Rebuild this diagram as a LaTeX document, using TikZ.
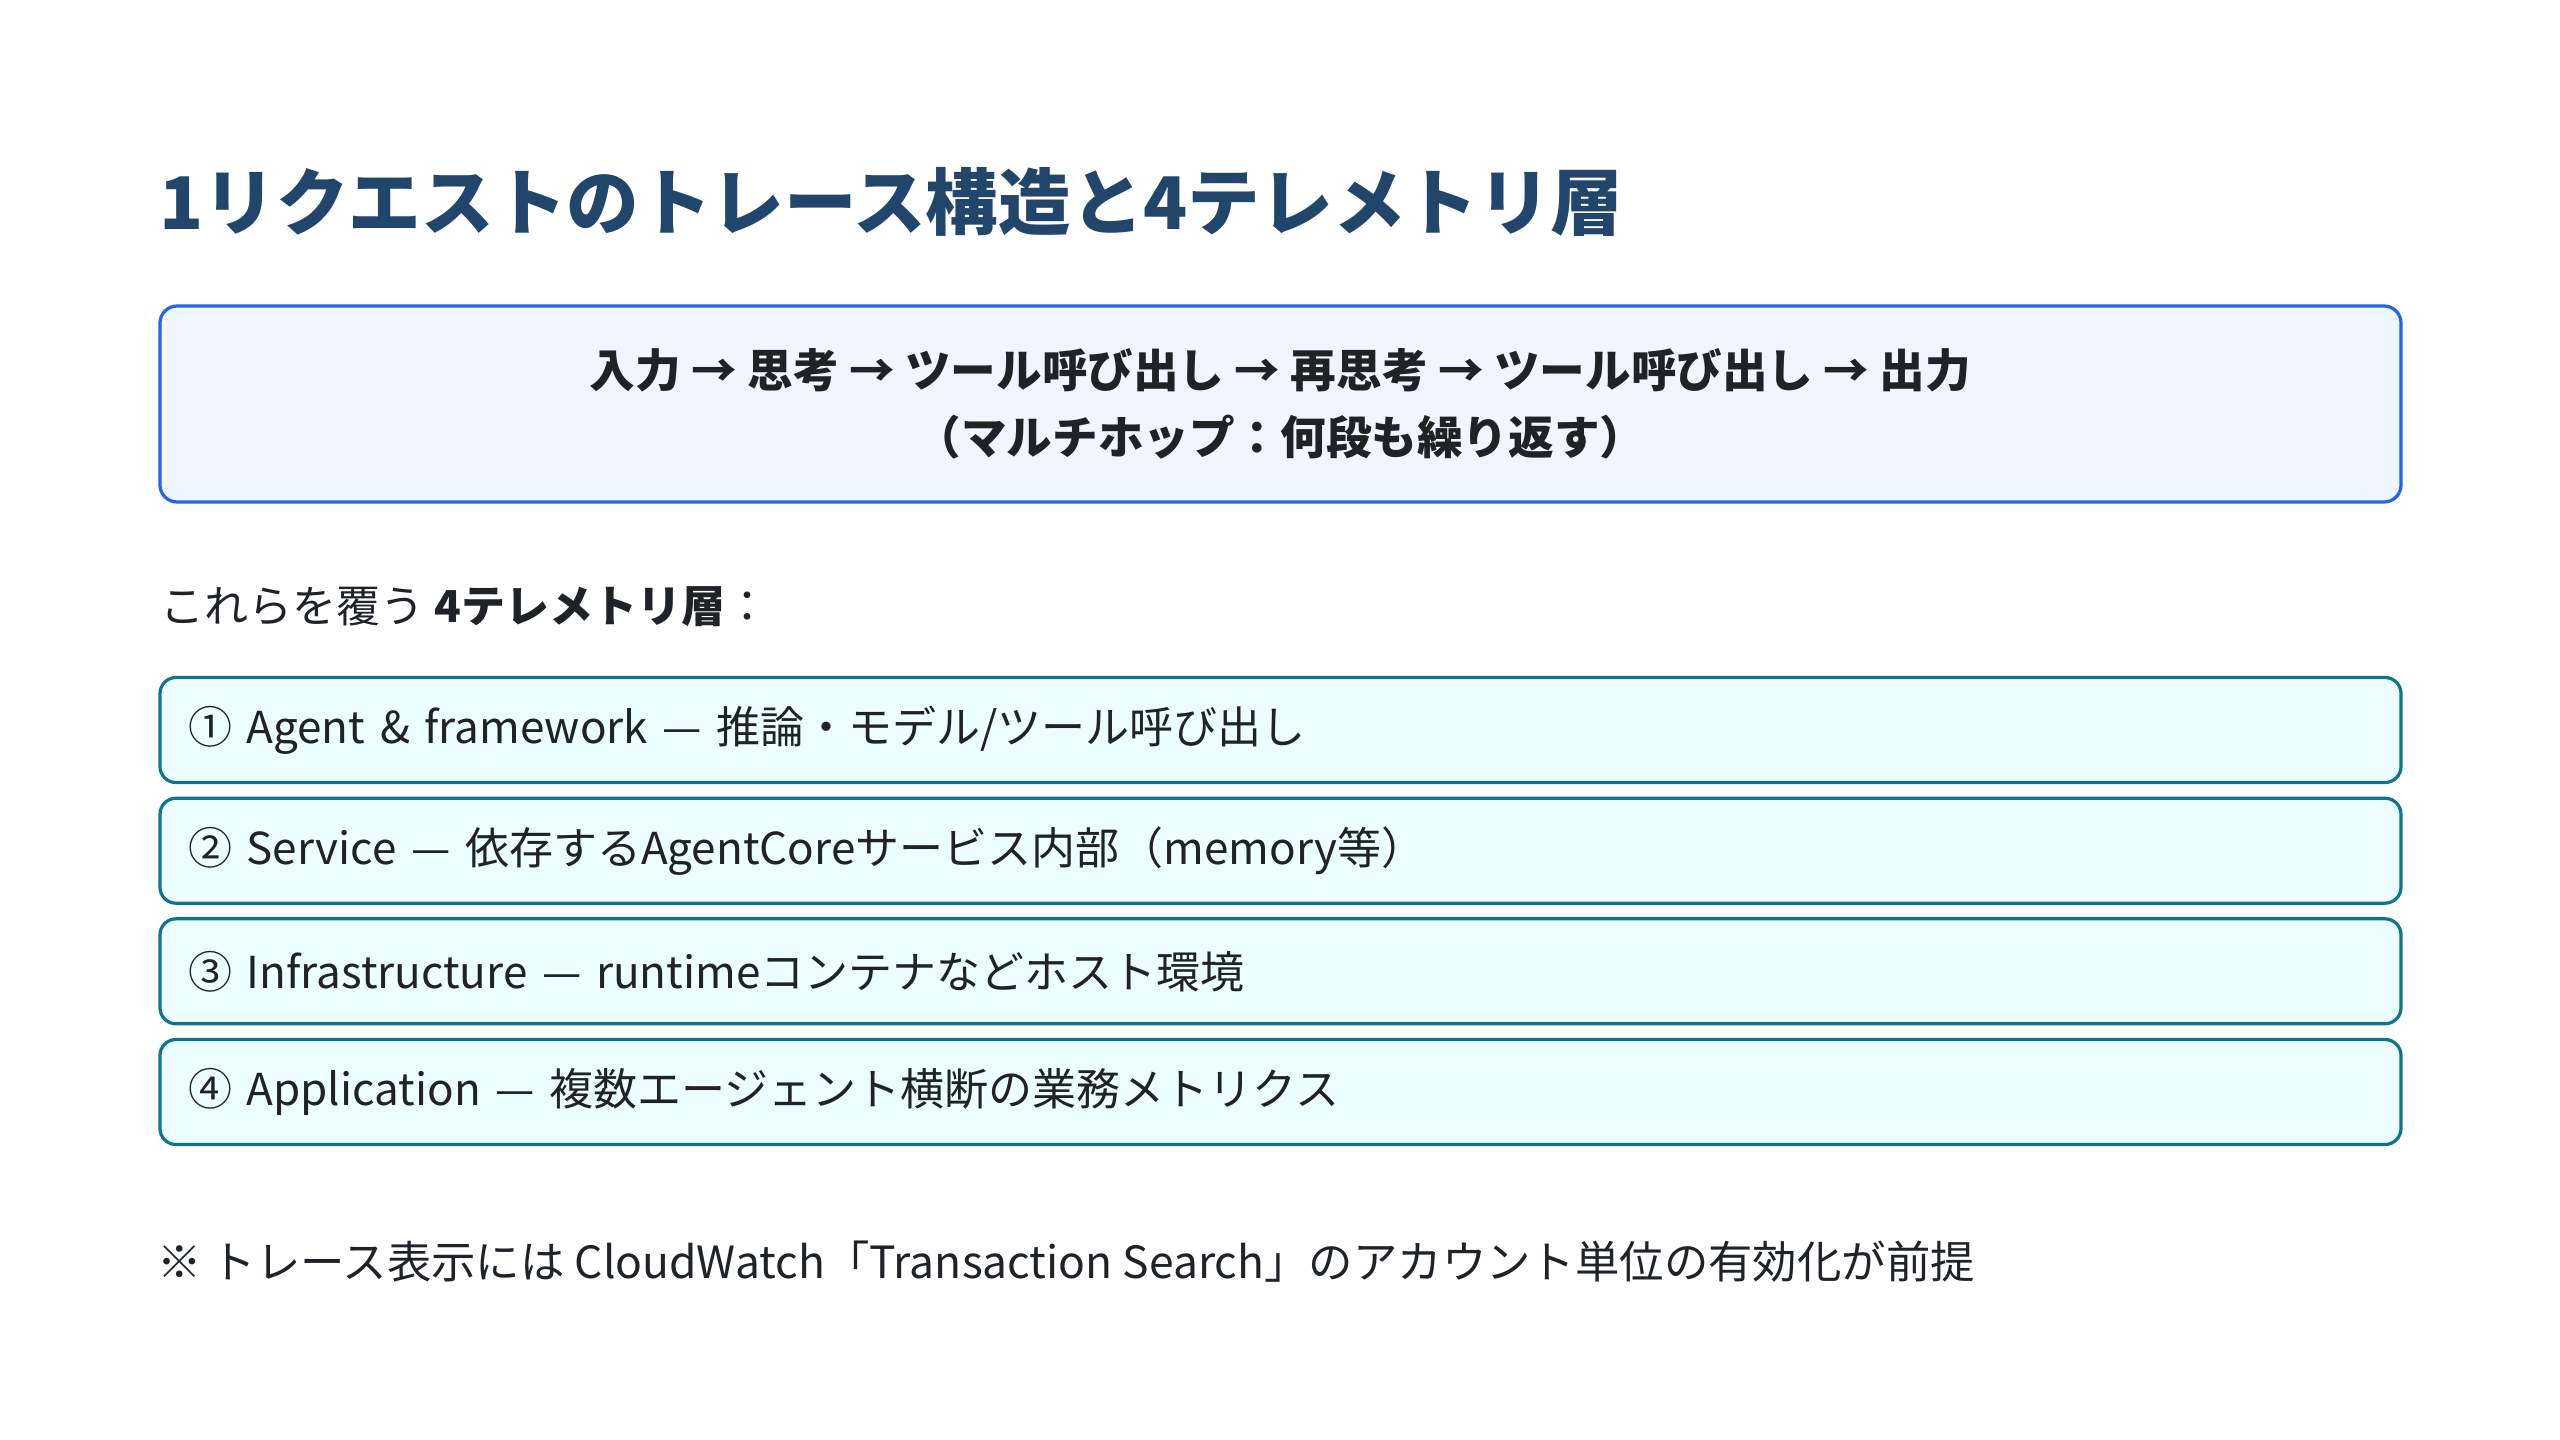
\documentclass[tikz,border=0pt]{standalone}
\usepackage{fontspec}
\setmainfont{Noto Sans CJK JP}
\usepackage{tikz}
\definecolor{titleblue}{RGB}{34, 70, 107}
\definecolor{inkgray}{RGB}{31, 35, 40}
\definecolor{flowfill}{RGB}{239, 246, 255}
\definecolor{flowline}{RGB}{37, 99, 235}
\definecolor{layerfill}{RGB}{236, 254, 255}
\definecolor{layerline}{RGB}{14, 116, 144}
\tikzset{flowbox/.style={draw=flowline, fill=flowfill, line width=1.6pt, rounded corners=8.5pt,
    minimum width=1120.5pt, minimum height=98pt, align=center, text=inkgray, font=\bfseries}}
\tikzset{layerbox/.style={draw=layerline, fill=layerfill, line width=1.6pt, rounded corners=8pt,
    minimum height=52.5pt, text width=1092.5pt, inner xsep=14pt, align=left, text=inkgray}}
\tikzset{plain/.style={anchor=west, inner sep=0pt, text=inkgray}}

\begin{document}
\begin{tikzpicture}[x=0.5pt, y=-0.5pt]%{{{
        \useasboundingbox (0,0) rectangle (2560,1440);

        \node[plain, text=titleblue, font=\fontsize{36.3}{40}\selectfont\bfseries] (Title) at (159, 202)
        {1リクエストのトレース構造と4テレメトリ層};

        \node[flowbox, font=\fontsize{22.8}{33.5}\selectfont\bfseries] (Flow) at (1280.5, 404)
        {入力 → 思考 → ツール呼び出し → 再思考 → ツール呼び出し → 出力\\（マルチホップ：何段も繰り返す）};

        \node[plain, font=\fontsize{22}{26}\selectfont] (Cover) at (160, 607)
        {これらを覆う \textbf{4テレメトリ層}：};

        \node[layerbox, font=\fontsize{22}{26}\selectfont] (L1) at (1280.5, 730)
        {① Agent \& framework — 推論・モデル/ツール呼び出し};
        \node[layerbox, font=\fontsize{22}{26}\selectfont] (L2) at (1280.5, 850.7)
        {② Service — 依存するAgentCoreサービス内部（memory等）};
        \node[layerbox, font=\fontsize{22}{26}\selectfont] (L3) at (1280.5, 971.3)
        {③ Infrastructure — runtimeコンテナなどホスト環境};
        \node[layerbox, font=\fontsize{22}{26}\selectfont] (L4) at (1280.5, 1092)
        {④ Application — 複数エージェント横断の業務メトリクス};

        \node[plain, font=\fontsize{22.2}{26}\selectfont] (Note) at (157, 1262)
        {※ トレース表示には CloudWatch「Transaction Search」のアカウント単位の有効化が前提};

   \end{tikzpicture}
\end{document}
